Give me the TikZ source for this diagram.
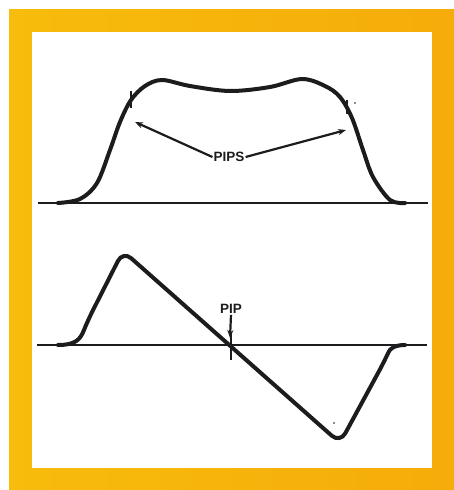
\documentclass[tikz,border=0pt]{standalone}
\usepackage{fontspec}
\setmainfont{Liberation Sans}
\usetikzlibrary{arrows.meta}
\definecolor{frameyel}{RGB}{247,188,12}
\definecolor{frameorg}{RGB}{246,172,10}
\definecolor{inkc}{RGB}{28,28,30}
\tikzset{
  wave/.style={draw=inkc, line width=4pt, line cap=round, line join=round},
  axis/.style={draw=inkc, line width=2.4pt},
  tick/.style={draw=inkc, line width=2pt},
  pointer/.style={draw=inkc, line width=2.2pt, -{Stealth[length=8pt,width=6pt]}},
  lbl/.style={font=\bfseries\fontsize{13.5}{13.5}\selectfont, text=inkc, inner sep=1pt}
}
\begin{document}
\begin{tikzpicture}[x=1pt,y=-1pt]
\useasboundingbox (0,0) rectangle (454,490);
\fill[white] (0,0) rectangle (454,490);
\shade[left color=frameyel, right color=frameorg] (9,9) rectangle (454,490);
\fill[white] (32,32) rectangle (432,468);
% top waveform
\draw[axis] (38,203) -- (428,203);
\draw[wave] plot[smooth, tension=0.55] coordinates {(58,203) (80,199) (97,183) (110,150) (120,122) (131,100) (145,86) (162,80) (190,86) (230,91) (270,87) (302,79) (325,86) (340,97) (352,118) (363,150) (373,177) (390,200) (405,203)};
\draw[tick] (131,91) -- (131,108);
\draw[tick] (347,100) -- (347,114);
\fill[inkc] (355,103) circle (0.9pt);
\node[lbl] (pips) at (229,157) {PIPS};
\coordinate (lpip) at (135,122);
\coordinate (rpip) at (346,130);
\draw[pointer] (pips.west) -- (lpip);
\draw[pointer] (pips.east) -- (rpip);
% bottom waveform
\draw[axis] (37,345) -- (427,345);
\draw[wave, rounded corners=11pt] (58,345) .. controls (75,345) and (80,340) .. (88,320) -- (123,251) -- (340,443) -- (384,362) .. controls (390,349) and (394,345) .. (405,345);
\node[lbl] (pip) at (231,309) {PIP};
\coordinate (ptip) at (230,338);
\draw[pointer] (pip.south) -- (ptip);
\draw[tick] (231,333) -- (231,360);
\fill[inkc] (334,423) circle (0.9pt);
\end{tikzpicture}
\end{document}
